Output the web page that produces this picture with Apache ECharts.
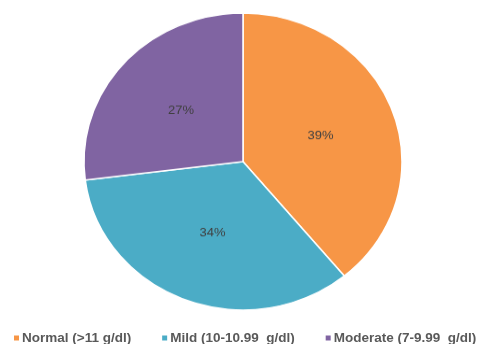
<!DOCTYPE html>
<html><head><meta charset="utf-8">
<script src="https://cdn.jsdelivr.net/npm/echarts@6/dist/echarts.min.js"></script>
<style>
html,body{margin:0;padding:0;background:#fff;overflow:hidden}
#wrap{position:relative;width:479px;height:344px}
#pie{position:absolute;left:0;top:0;width:479px;height:368px;transform:scaleY(0.934);transform-origin:0 0}
#leg{position:absolute;left:0;top:0;width:479px;height:344px}
</style>
</head><body><div id="wrap"><div id="pie"></div><div id="leg"></div></div>
<script>
const categories = ["Normal (>11 g/dl)", "Mild (10-10.99  g/dl)", "Moderate (7-9.99  g/dl)"];
const values = [39, 34, 27];
const colors = ["#F79646", "#4BACC6", "#8064A2"];

const seriesData = categories.map((n, i) => ({name: n, value: values[i]}));
const font = 'Liberation Sans, Arial, sans-serif';

const pie = echarts.init(document.getElementById('pie'), null, {renderer: 'canvas'});
pie.setOption({
  animation: false,
  color: colors,
  series: [{
    type: 'pie',
    center: [243, 172.9],
    radius: 159,
    startAngle: 90,
    clockwise: true,
    itemStyle: {borderColor: '#fff', borderWidth: 1.5},
    label: {
      position: 'inside',
      formatter: '{c}%',
      fontFamily: font,
      fontSize: 13,
      color: '#404040'
    },
    labelLine: {show: false},
    emphasis: {disabled: true},
    data: seriesData
  }]
});

const leg = echarts.init(document.getElementById('leg'), null, {renderer: 'canvas'});
leg.setOption({
  animation: false,
  color: colors,
  legend: {
    top: 331,
    left: 14,
    padding: 0,
    icon: 'rect',
    itemWidth: 5,
    itemHeight: 5,
    itemGap: 31,
    selectedMode: false,
    textStyle: {fontFamily: font, fontSize: 13.5, fontWeight: 'bold', color: '#595959', lineHeight: 14, padding: [0, 0, 0, -2]},
    data: categories
  },
  series: [{
    type: 'pie',
    radius: 0,
    silent: true,
    label: {show: false},
    labelLine: {show: false},
    data: seriesData
  }]
});
</script></body></html>
